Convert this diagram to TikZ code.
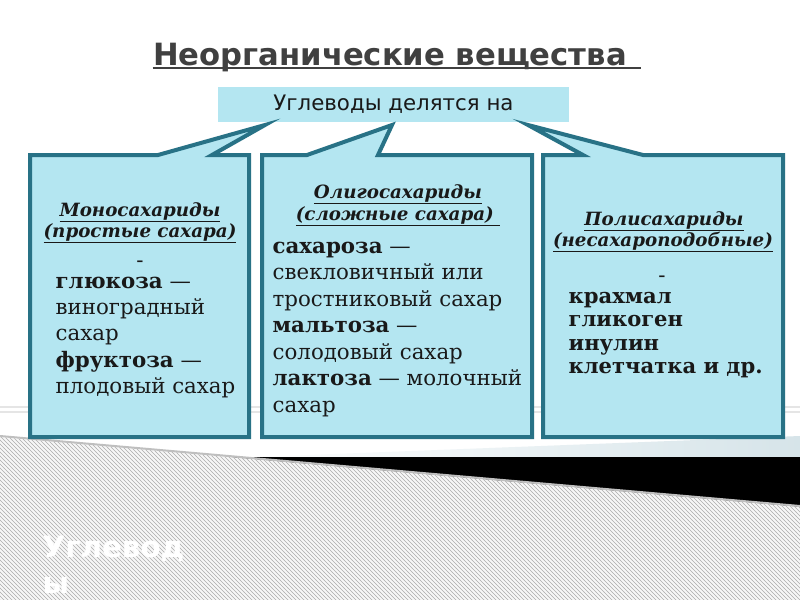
\documentclass[tikz,border=0pt]{standalone}
\usepackage{fontspec}
\setmainfont{DejaVu Serif}
\newfontfamily\serifohne{DejaVu Sans}
\usetikzlibrary{patterns}
\definecolor{rand}{RGB}{40,114,134}
\definecolor{feld}{RGB}{180,230,241}
\definecolor{titelgrau}{RGB}{64,64,64}
\definecolor{schrift}{RGB}{25,25,25}
\definecolor{schatten}{RGB}{214,228,233}
\tikzset{
	blase/.style={draw=rand,fill=feld,line width=3pt,line join=miter},
	kopf/.style={anchor=base,inner sep=0pt,text=schrift,font=\fontsize{13.7}{16}\selectfont\bfseries\itshape},
	zeile/.style={anchor=base west,inner sep=0pt,text=schrift,font=\fontsize{16}{19}\selectfont},
}
\begin{document}
\begin{tikzpicture}[x=0.75pt,y=-0.75pt,line width=1pt]
			\clip (0,0) rectangle (800,600);
			%%Hintergrund
			\fill[white] (0,0) rectangle (800,600);
			\draw[gray!20,line width=0.8pt] (0,407) -- (800,407);
			\draw[gray!20,line width=0.8pt] (0,412) -- (800,412);
			\shade[left color=white,right color=schatten] (230,458) -- (800,436) -- (800,458) -- cycle;
			\fill[black] (229,457) -- (800,457) -- (800,507) -- cycle;
			\fill[gray!6] (0,437) -- (800,507) -- (800,600) -- (0,600) -- cycle;
			\fill[pattern=north west lines,pattern color=gray!65] (0,437) -- (800,507) -- (800,600) -- (0,600) -- cycle;
			\draw[gray!50,line width=1.5pt] (0,436) -- (800,506);
			\node[anchor=base west,inner sep=0pt,text=white,font=\serifohne\bfseries\fontsize{22}{26}\selectfont] (ecke1) at (42,557) {Углевод};
			\node[anchor=base west,inner sep=0pt,text=white,font=\serifohne\bfseries\fontsize{22}{26}\selectfont] (ecke2) at (42,593) {ы};

			%%Titel
			\node[anchor=base,inner sep=0pt,text=titelgrau,font=\serifohne\bfseries\fontsize{23}{26}\selectfont] (titel) at (390,65) {Неорганические вещества};
			\draw[titelgrau,line width=1.5pt] ([yshift=-2.6pt]titel.base west) -- ([xshift=10pt,yshift=-2.6pt]titel.base east);

			%%Oberer Kasten
			\node[fill=feld,minimum width=263pt,minimum height=26pt,inner sep=0pt,text=schrift,font=\serifohne\fontsize{16}{19}\selectfont] (oben) at (393.5,104.5) {Углеводы делятся на};

			%%Sprechblasen
			\draw[blase] (30,155) -- (158,155) -- (265,125) -- (212,155) -- (249,155) -- (249,437) -- (30,437) -- cycle;
			\draw[blase] (262,155) -- (307,155) -- (392,125) -- (378,155) -- (532,155) -- (532,437) -- (262,437) -- cycle;
			\draw[blase] (543,155) -- (583,155) -- (528,125) -- (643,155) -- (783,155) -- (783,437) -- (543,437) -- cycle;

			%%Monosaccharide
			\node[kopf] (mono1) at (140,216) {\underline{Моносахариды}};
			\node[kopf] (mono2) at (140,237) {\underline{(простые сахара)}};
			\node[zeile,anchor=base] (mstrich) at (140,267) {-};
			\foreach \z [count=\i] in {{\textbf{глюкоза} —},виноградный,сахар,{\textbf{фруктоза} —},плодовый сахар}
				\node[zeile] (mono-\i) at (55,{288+26.4*(\i-1)}) {\z};

			%%Oligosaccharide
			\node[kopf] (oligo1) at (398,198) {\underline{Олигосахариды}};
			\node[kopf] (oligo2) at (398,220) {\underline{(сложные сахара)\ }};
			\foreach \z [count=\i] in {{\textbf{сахароза} —},свекловичный или,тростниковый сахар,{\textbf{мальтоза} —},солодовый сахар,{\textbf{лактоза} — молочный},сахар}
				\node[zeile] (oligo-\i) at (272,{253+26.5*(\i-1)}) {\z};

			%%Polysaccharide
			\node[kopf] (poly1) at (664,225) {\underline{Полисахариды}};
			\node[kopf] (poly2) at (663,246) {\underline{(несахароподобные)}};
			\node[zeile,anchor=base] (pstrich) at (662,282) {-};
			\foreach \z [count=\i] in {крахмал,гликоген,инулин,клетчатка и др.}
				\node[zeile,font=\fontsize{15.8}{19}\selectfont\bfseries] (poly-\i) at (568,{303+23.5*(\i-1)}) {\z};
		\end{tikzpicture}
\end{document}
